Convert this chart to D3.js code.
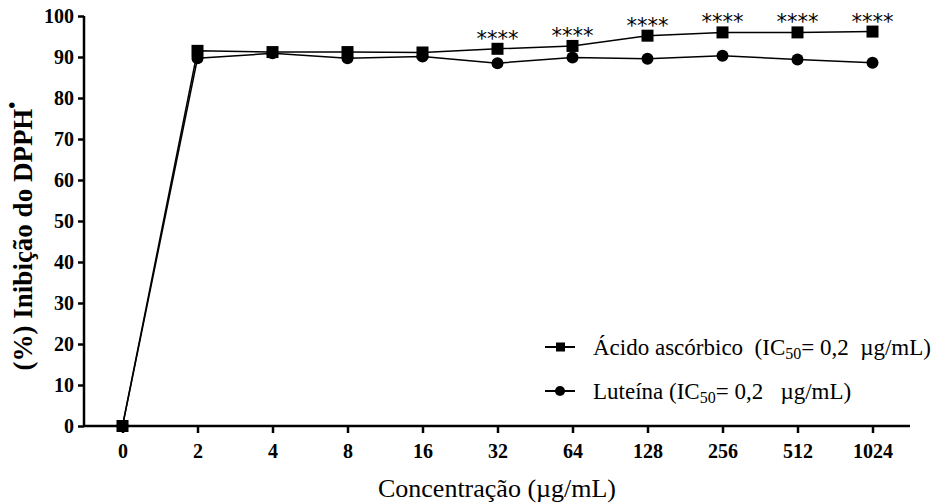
<!DOCTYPE html>
<html>
<head>
<meta charset="utf-8">
<script src="https://cdn.jsdelivr.net/npm/d3@7"></script>
<style>
	body { margin: 0; background: #fff; }
	svg text { font-family: "Liberation Serif", "Times New Roman", serif; fill: #000; white-space: pre; }
</style>
</head>
<body>
<div class="js-graph"></div>
<script>
var concentrations = ['0', '2', '4', '8', '16', '32', '64', '128', '256', '512', '1024'];
var acidoValues = [0, 91.5, 91.2, 91.2, 91.1, 92.0, 92.7, 95.2, 96.0, 96.0, 96.2];
var luteinaValues = [0, 89.7, 90.9, 89.7, 90.1, 88.5, 89.9, 89.6, 90.3, 89.4, 88.6];
var significance = ['', '', '', '', '', '****', '****', '****', '****', '****', '****'];
var yTicks = [0, 10, 20, 30, 40, 50, 60, 70, 80, 90, 100];

(function(d3) {
	var w = 936, h = 503,
		graph = d3.select('.js-graph').append('svg').attr('width', w).attr('height', h);

	var axisX0 = 84, axisX1 = 910, axisY0 = 426, axisY1 = 16;

	var x = d3.scalePoint().domain(concentrations).range([122.5, 872.5]);
	var y = d3.scaleLinear().domain([0, 100]).range([axisY0, axisY1]);

	// y axis
	var yAxis = graph.append('g')
		.attr('transform', 'translate(' + axisX0 + ',0)')
		.call(d3.axisLeft(y).tickValues(yTicks).tickSize(6).tickPadding(4));
	yAxis.select('.domain').attr('d', 'M0,' + axisY1 + 'V' + axisY0).attr('stroke-width', 2.5);
	yAxis.selectAll('.tick line').attr('stroke-width', 2.5);
	yAxis.selectAll('.tick text')
		.style('font-size', '20px').style('font-weight', 'bold')
		.style('font-family', '"Liberation Serif", serif');

	// x axis
	var xAxis = graph.append('g')
		.attr('transform', 'translate(0,' + axisY0 + ')')
		.call(d3.axisBottom(x).tickSize(7).tickPadding(11));
	xAxis.select('.domain').attr('d', 'M' + axisX0 + ',0H' + axisX1).attr('stroke-width', 2.5);
	xAxis.selectAll('.tick line').attr('stroke-width', 2.5);
	xAxis.selectAll('.tick text')
		.style('font-size', '20px').style('font-weight', 'bold')
		.style('font-family', '"Liberation Serif", serif');

	// axis titles
	graph.append('text')
		.attr('transform', 'translate(32,236) rotate(-90)')
		.attr('text-anchor', 'middle')
		.style('font-size', '27px').style('font-weight', 'bold')
		.text('(%) Inibição do DPPH')
		.append('tspan').attr('dy', -13).style('font-size', '20px').text('•');

	graph.append('text')
		.attr('x', 497).attr('y', 497)
		.attr('text-anchor', 'middle')
		.style('font-size', '26px')
		.text('Concentração (µg/mL)');

	var line = d3.line()
		.x(function(d, i) { return x(concentrations[i]); })
		.y(function(d) { return y(d); });

	graph.append('path').datum(luteinaValues)
		.attr('d', line).attr('fill', 'none').attr('stroke', '#000').attr('stroke-width', 1.5);
	graph.append('path').datum(acidoValues)
		.attr('d', line).attr('fill', 'none').attr('stroke', '#000').attr('stroke-width', 1.5);

	graph.selectAll('circle.luteina')
		.data(luteinaValues)
		.enter()
		.append('circle')
		.attr('class', 'luteina')
		.attr('cx', function(d, i) { return x(concentrations[i]); })
		.attr('cy', function(d) { return y(d); })
		.attr('r', 6)
		.attr('fill', '#000');

	graph.selectAll('rect.acido')
		.data(acidoValues)
		.enter()
		.append('rect')
		.attr('class', 'acido')
		.attr('x', function(d, i) { return x(concentrations[i]) - 6; })
		.attr('y', function(d) { return y(d) - 6; })
		.attr('width', 12)
		.attr('height', 12)
		.attr('fill', '#000');

	graph.selectAll('text.sig')
		.data(significance)
		.enter()
		.append('text')
		.attr('class', 'sig')
		.attr('x', function(d, i) { return x(concentrations[i]); })
		.attr('y', function(d, i) { return y(acidoValues[i]) - 3; })
		.attr('text-anchor', 'middle')
		.style('font-size', '21px')
		.style('font-family', '"DejaVu Sans", sans-serif')
		.text(function(d) { return d; });

	// legend
	var legend = [
		{ label: 'Ácido ascórbico  (IC', rest: '= 0,2  µg/mL)', shape: 'square', y: 347 },
		{ label: 'Luteína (IC', rest: '= 0,2   µg/mL)', shape: 'circle', y: 391 }
	];
	var lg = graph.selectAll('g.legend').data(legend).enter().append('g')
		.attr('class', 'legend')
		.attr('transform', function(d) { return 'translate(545,' + d.y + ')'; });
	lg.append('line').attr('x1', 0).attr('x2', 30).attr('stroke', '#000').attr('stroke-width', 2);
	lg.filter(function(d) { return d.shape === 'square'; }).append('rect')
		.attr('x', 11).attr('y', -4.5).attr('width', 9).attr('height', 9).attr('fill', '#000');
	lg.filter(function(d) { return d.shape === 'circle'; }).append('circle')
		.attr('cx', 15).attr('r', 5).attr('fill', '#000');
	var lt = lg.append('text').attr('x', 48).attr('y', 8).style('font-size', '23px');
	lt.append('tspan').text(function(d) { return d.label; });
	lt.append('tspan').attr('dy', 4).style('font-size', '16px').text('50');
	lt.append('tspan').attr('dy', -4).text(function(d) { return d.rest; });
})(d3);
</script>
</body>
</html>
